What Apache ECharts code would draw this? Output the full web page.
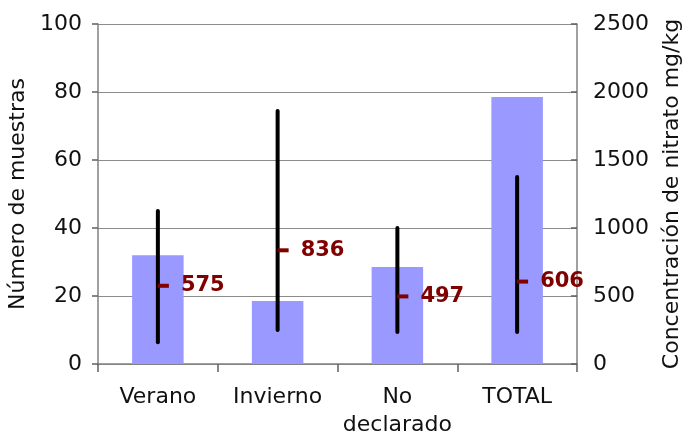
<!DOCTYPE html>
<html><head><meta charset="utf-8">
<script src="https://cdn.jsdelivr.net/npm/echarts@6/dist/echarts.min.js"></script>
<style>html,body{margin:0;padding:0;background:#fff}#c{width:687px;height:432px}</style>
</head><body><div id="c"></div>
<script>
const categories = ['Verano', 'Invierno', 'No\ndeclarado', 'TOTAL'];
const sampleCounts = [32, 18.5, 28.5, 78.5];
const nitrateMin = [160, 250, 235, 235];
const nitrateMax = [1125, 1860, 1000, 1375];
const nitrateMean = [575, 836, 497, 606];
const leftTicks = [0, 20, 40, 60, 80, 100];
const rightTicks = [0, 500, 1000, 1500, 2000, 2500];

const font = 'DejaVu Sans';
const fs = 22;
const rangeData = categories.map((c, i) => [i, nitrateMin[i], nitrateMax[i], nitrateMean[i]]);

const chart = echarts.init(document.getElementById('c'), null, {renderer: 'canvas'});
chart.setOption({
  animation: false,
  backgroundColor: '#fff',
  grid: {left: 98, right: 110, top: 24, bottom: 68, containLabel: false, outerBoundsMode: 'none'},
  xAxis: {
    type: 'category', data: categories,
    axisLine: {lineStyle: {color: '#808080', width: 1.5}},
    axisTick: {show: true, interval: 0, length: 8, lineStyle: {color: '#606060', width: 1.5}},
    axisLabel: {interval: 0, color: '#111', fontFamily: font, fontSize: fs, margin: 19, lineHeight: 28}
  },
  yAxis: [{
    type: 'value', min: leftTicks[0], max: leftTicks[leftTicks.length - 1], interval: 20,
    name: 'Número de muestras', nameLocation: 'middle', nameRotate: 90, nameGap: 68,
    nameTextStyle: {color: '#111', fontFamily: font, fontSize: fs},
    axisLine: {show: true, lineStyle: {color: '#808080', width: 1.5}},
    axisTick: {show: true, length: 6, lineStyle: {color: '#606060', width: 1.5}},
    axisLabel: {color: '#111', fontFamily: font, fontSize: fs, margin: 16},
    splitLine: {show: true, lineStyle: {color: '#8c8c8c', width: 1.2}}
  }, {
    type: 'value', min: rightTicks[0], max: rightTicks[rightTicks.length - 1], interval: 500,
    position: 'right',
    name: 'Concentración de nitrato mg/kg', nameLocation: 'middle', nameRotate: 90, nameGap: 84,
    nameTextStyle: {color: '#111', fontFamily: font, fontSize: fs},
    axisLine: {show: true, lineStyle: {color: '#808080', width: 1.5}},
    axisTick: {show: true, inside: true, length: 6, lineStyle: {color: '#606060', width: 1.5}},
    axisLabel: {color: '#111', fontFamily: font, fontSize: fs, margin: 16, formatter: v => String(v)},
    splitLine: {show: false}
  }],
  series: [{
    type: 'bar', data: sampleCounts, yAxisIndex: 0, barWidth: '43%',
    itemStyle: {color: '#9999ff'}, z: 2
  }, {
    type: 'custom', yAxisIndex: 1, data: rangeData, z: 5,
    encode: {x: 0, y: [1, 2, 3]},
    renderItem: function (params, api) {
      const x = api.value(0);
      const lo = api.coord([x, api.value(1)]);
      const hi = api.coord([x, api.value(2)]);
      const mean = api.coord([x, api.value(3)]);
      return {
        type: 'group',
        children: [
          {type: 'line', shape: {x1: lo[0], y1: lo[1], x2: hi[0], y2: hi[1]},
           style: {stroke: '#000', lineWidth: 4, lineCap: 'round'}},
          {type: 'line', shape: {x1: mean[0], y1: mean[1], x2: mean[0] + 11, y2: mean[1]},
           style: {stroke: '#800000', lineWidth: 4}},
          {type: 'text', x: mean[0] + 23, y: mean[1],
           style: {text: String(api.value(3)), fill: '#800000', font: 'bold 21px "DejaVu Sans"',
                   textAlign: 'left', textVerticalAlign: 'middle'}}
        ]
      };
    }
  }]
});
</script></body></html>
